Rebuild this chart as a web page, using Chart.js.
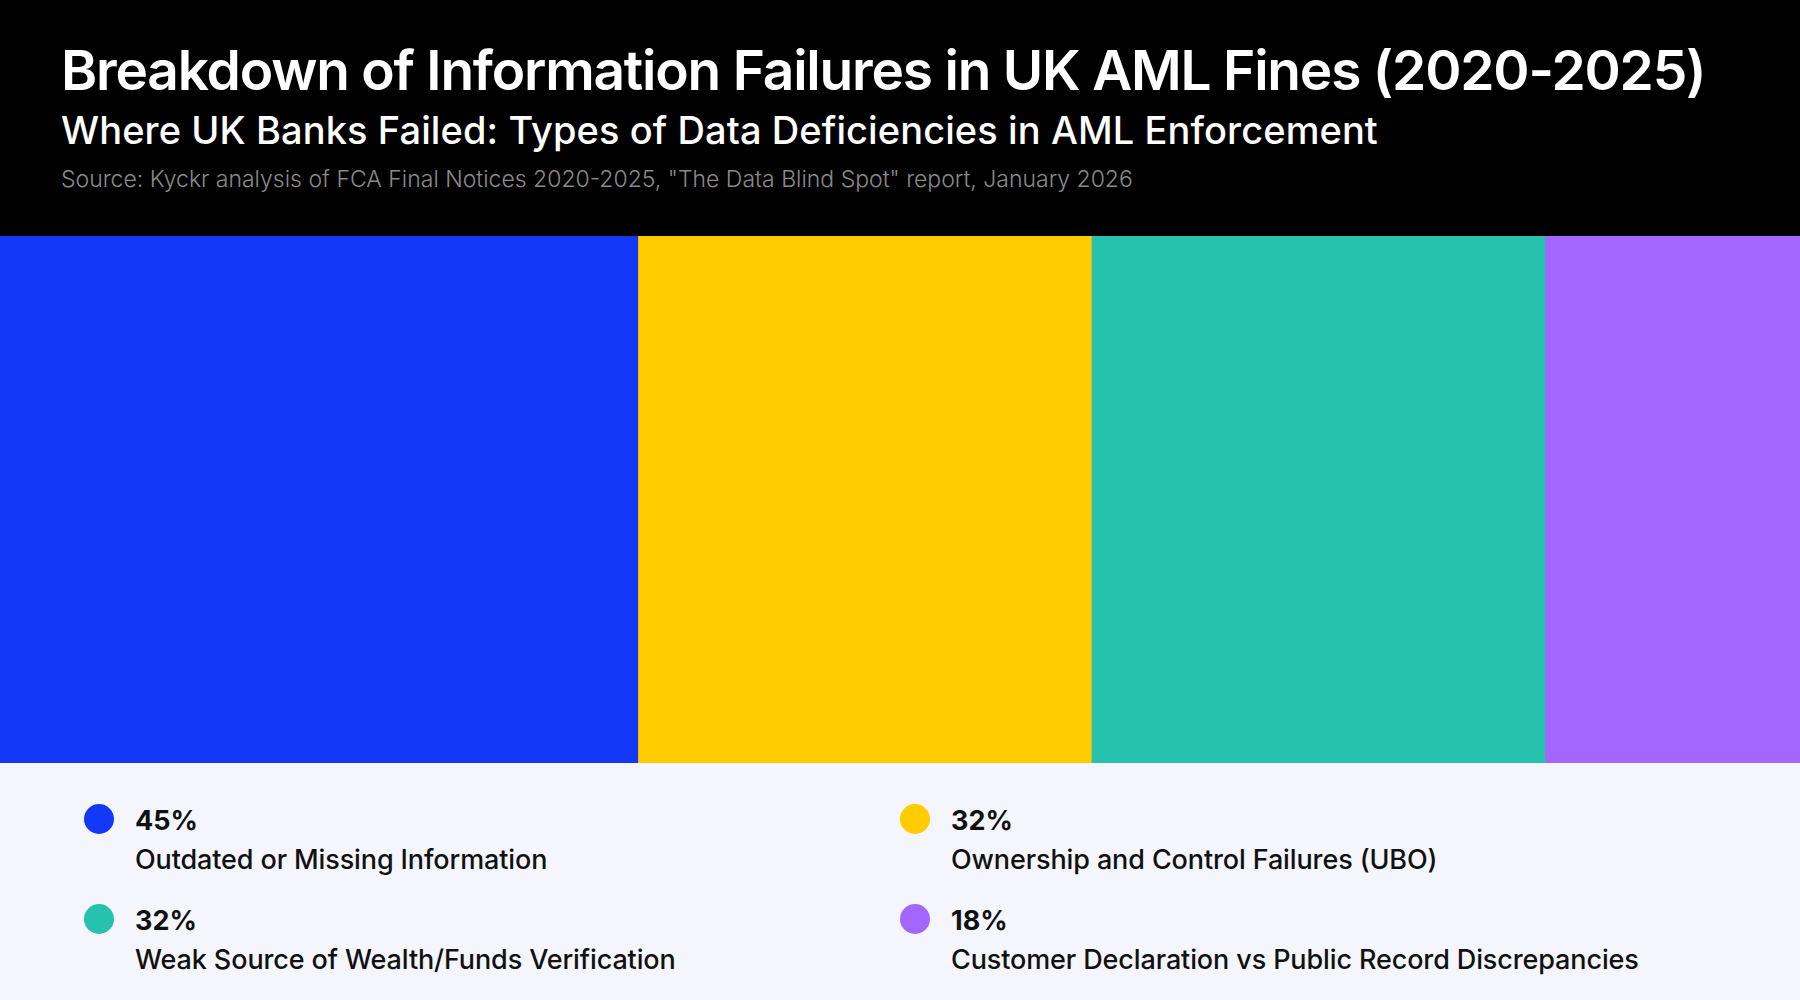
<!DOCTYPE html>
<html>
<head>
<meta charset="utf-8">
<script src="https://cdn.jsdelivr.net/npm/chart.js@4"></script>
<style>
  html, body { margin: 0; padding: 0; }
  body { width: 1800px; height: 1000px; overflow: hidden; font-family: Inter, "Noto Sans", sans-serif; background: #f5f6fd; }
  .header { position: relative; height: 236px; background: #000; color: #fff; }
  .title { position: absolute; left: 61px; top: 37px; font-size: 55px; font-weight: 600; letter-spacing: -1.2px; white-space: nowrap; }
  .subtitle { position: absolute; left: 61px; top: 107px; font-size: 38px; font-weight: 500; letter-spacing: 0.1px; white-space: nowrap; }
  .source { position: absolute; left: 61px; top: 165px; font-size: 23px; font-weight: 300; color: #8a8a8a; white-space: nowrap; }
  .chart-wrap { position: relative; height: 527px; }
  .legend { position: relative; height: 237px; background: #f5f6fd; }
  .item { position: absolute; }
  .dot { position: absolute; left: 0; top: 0; width: 30px; height: 30px; border-radius: 50%; }
  .pct { position: absolute; left: 51px; top: 0px; font-size: 27px; font-weight: 700; color: #111; white-space: nowrap; }
  .lbl { position: absolute; left: 51px; top: 39px; font-size: 27px; font-weight: 500; letter-spacing: -0.12px; color: #111; white-space: nowrap; }
</style>
</head>
<body>
<div class="header">
  <div class="title">Breakdown of Information Failures in UK AML Fines (2020-2025)</div>
  <div class="subtitle">Where UK Banks Failed: Types of Data Deficiencies in AML Enforcement</div>
  <div class="source">Source: Kyckr analysis of FCA Final Notices 2020-2025, "The Data Blind Spot" report, January 2026</div>
</div>
<div class="chart-wrap"><canvas id="chart"></canvas></div>
<div class="legend" id="legend"></div>
<script>
  var categories = [
    'Outdated or Missing Information',
    'Ownership and Control Failures (UBO)',
    'Weak Source of Wealth/Funds Verification',
    'Customer Declaration vs Public Record Discrepancies'
  ];
  var shares = [45, 32, 32, 18];
  var colors = ['#1438f7', '#ffcc00', '#26c2ae', '#a366ff'];

  var total = shares.reduce(function (sum, value) { return sum + value; }, 0);

  // legend: two columns, two rows (reading order left-right, top-bottom)
  var legend = document.getElementById('legend');
  var colX = [84, 900];
  var rowY = [41, 141];
  categories.forEach(function (name, i) {
    var item = document.createElement('div');
    item.className = 'item';
    item.style.left = colX[i % 2] + 'px';
    item.style.top = rowY[Math.floor(i / 2)] + 'px';
    item.innerHTML = '<div class="dot" style="background:' + colors[i] + '"></div>' +
      '<div class="pct">' + shares[i] + '%</div>' +
      '<div class="lbl">' + name + '</div>';
    legend.appendChild(item);
  });

  new Chart(document.getElementById('chart'), {
    type: 'bar',
    data: {
      labels: ['Share'],
      datasets: categories.map(function (name, i) {
        return {
          label: name,
          data: [shares[i]],
          backgroundColor: colors[i],
          borderWidth: 0,
          barPercentage: 1,
          categoryPercentage: 1
        };
      })
    },
    options: {
      indexAxis: 'y',
      responsive: true,
      maintainAspectRatio: false,
      animation: false,
      layout: { padding: 0 },
      plugins: {
        legend: { display: false },
        tooltip: { enabled: false },
        title: { display: false }
      },
      scales: {
        x: { stacked: true, min: 0, max: total, display: false },
        y: { stacked: true, display: false }
      }
    }
  });
</script>
</body>
</html>
